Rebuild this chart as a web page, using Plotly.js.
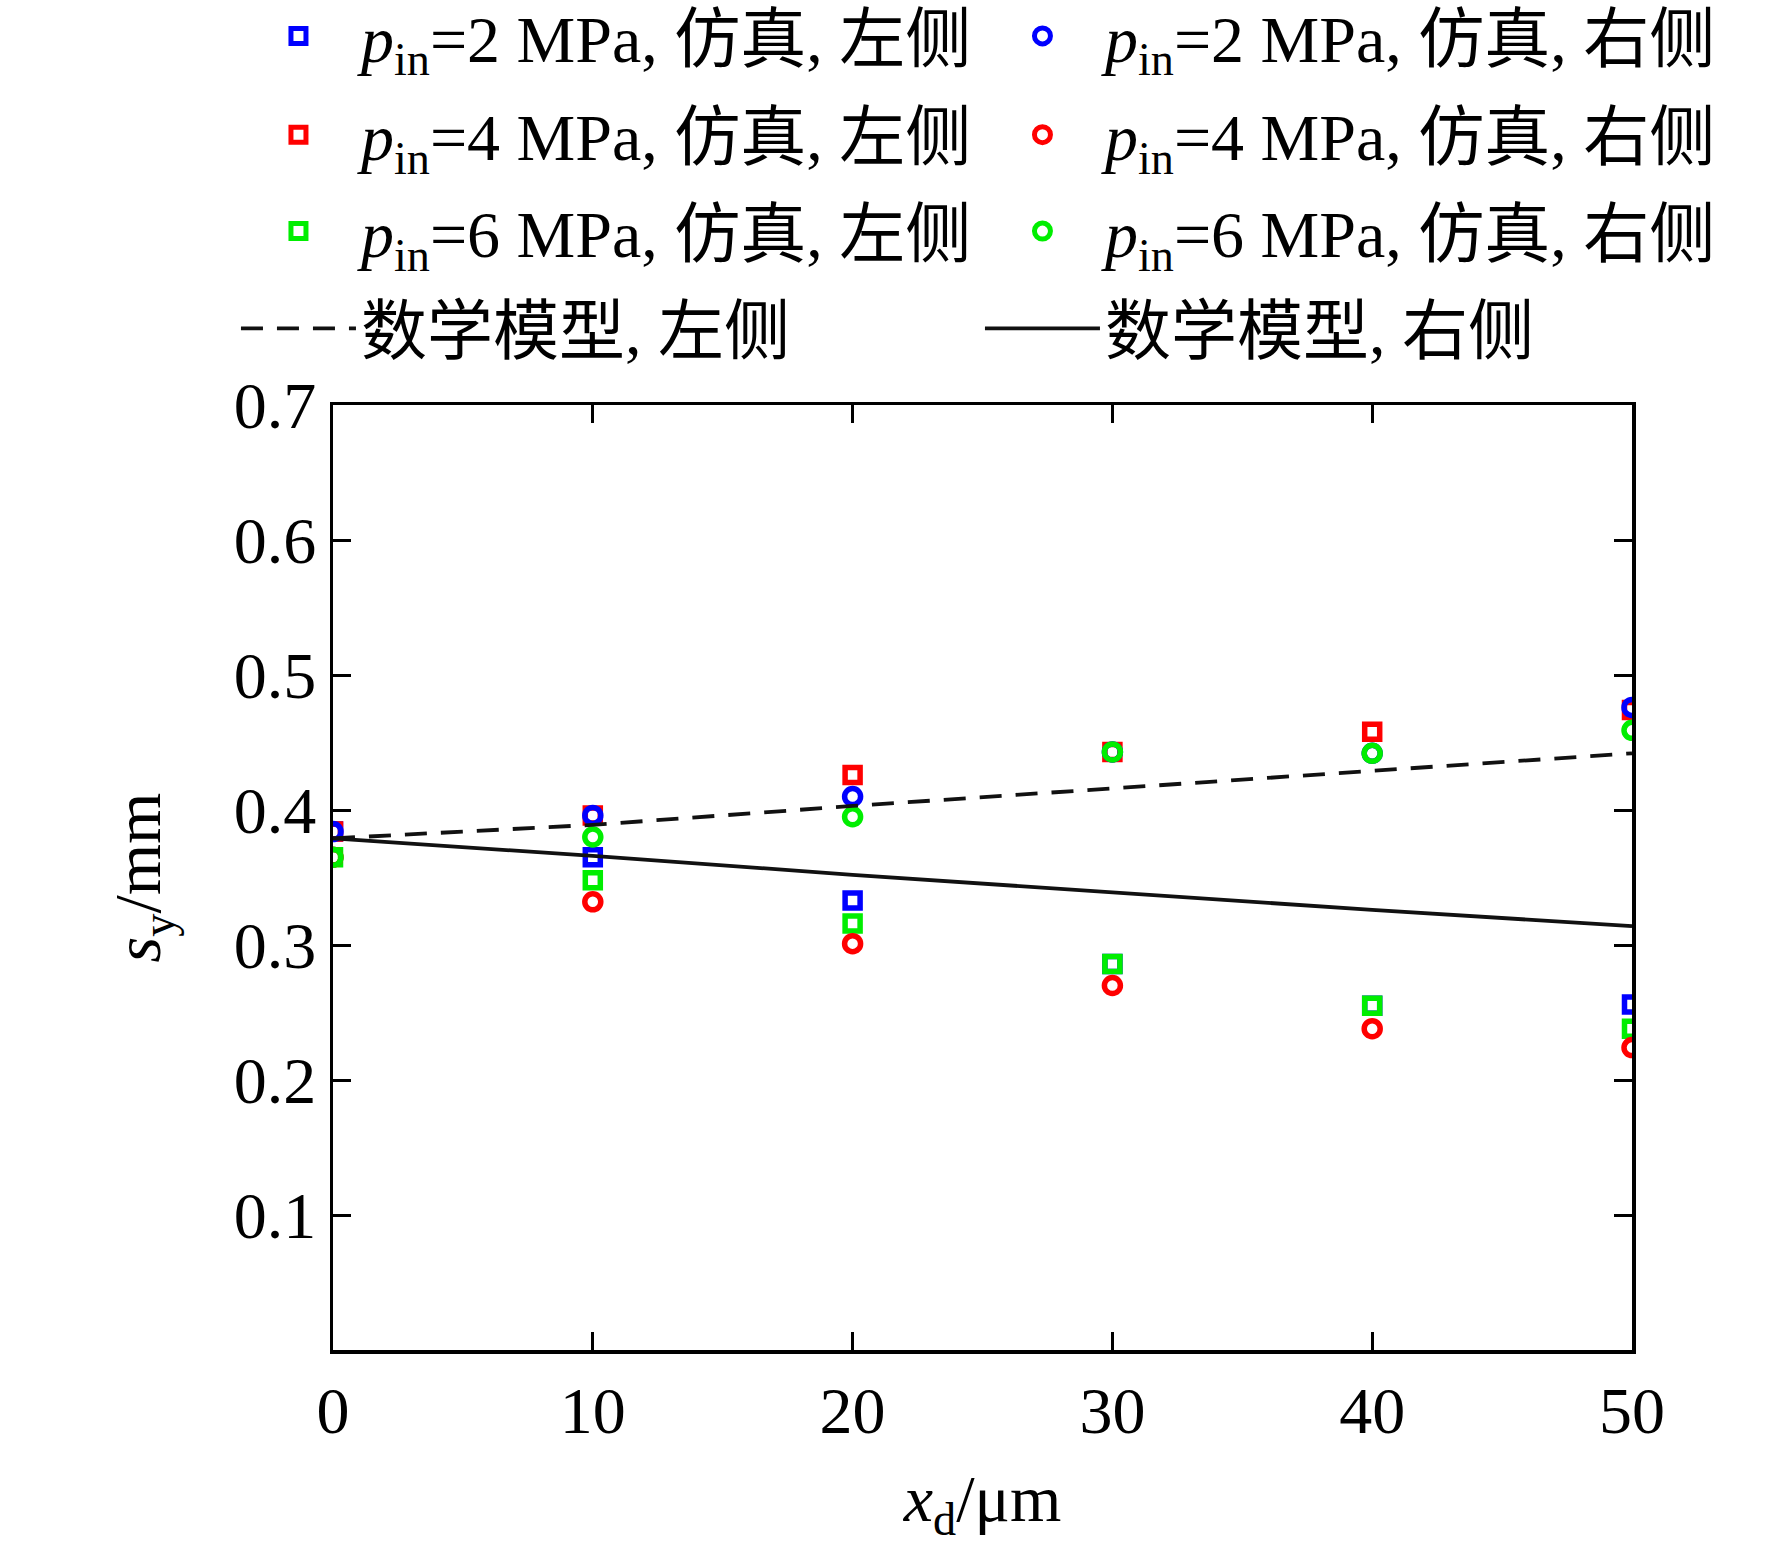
<!DOCTYPE html>
<html>
<head>
<meta charset="utf-8">
<script src="https://cdn.plot.ly/plotly-3.0.1.min.js"></script>
<style>
  html, body { margin: 0; padding: 0; background: #fff; }
  #chart { width: 1772px; height: 1552px; }
</style>
</head>
<body>
<div id="chart"></div>
<script>
// x_d in um
var xd = [0, 10, 20, 30, 40, 50];

// simulation, left side (squares)
var left2 = [0.384, 0.365, 0.333, 0.286, 0.255, 0.256];
var left4 = [0.384, 0.396, 0.426, 0.443, 0.458, 0.474];
var left6 = [0.365, 0.348, 0.316, 0.286, 0.255, 0.238];

// simulation, right side (circles)
var right2 = [0.384, 0.396, 0.410, 0.443, 0.442, 0.476];
var right4 = [0.365, 0.332, 0.301, 0.270, 0.238, 0.224];
var right6 = [0.365, 0.380, 0.395, 0.443, 0.442, 0.459];

// math model
var modelLeft = [0.379, 0.389, 0.403, 0.416, 0.429, 0.442];
var modelRight = [0.379, 0.366, 0.352, 0.339, 0.326, 0.314];

var xTicks = [0, 10, 20, 30, 40, 50];
var yTicks = [0.1, 0.2, 0.3, 0.4, 0.5, 0.6, 0.7];

var FONT = 'Liberation Serif, Times New Roman, Noto Sans CJK SC, serif';

function simTrace(y, name, color, symbol, legendId, rank) {
  var isSquare = symbol == 'square-open';
  return {
    x: xd,
    y: y,
    type: 'scatter',
    mode: 'markers',
    name: name,
    legend: legendId,
    legendrank: rank,
    marker: {
      symbol: symbol,
      color: color,
      size: isSquare ? 15 : 16,
      line: { color: color, width: 5.5 }
    }
  };
}

function modelTrace(y, name, dash, legendId, rank) {
  return {
    x: xd,
    y: y,
    type: 'scatter',
    mode: 'lines',
    name: name,
    legend: legendId,
    legendrank: rank,
    line: { color: '#111', width: 3.8, dash: dash }
  };
}

var traces = [
  simTrace(left2, '<i>p</i><sub>in</sub>=2 MPa, 仿真, 左侧', '#0000ff', 'square-open', 'legend', 1),
  simTrace(left4, '<i>p</i><sub>in</sub>=4 MPa, 仿真, 左侧', '#ff0000', 'square-open', 'legend2', 1),
  simTrace(left6, '<i>p</i><sub>in</sub>=6 MPa, 仿真, 左侧', '#00ee00', 'square-open', 'legend3', 1),
  simTrace(right2, '<i>p</i><sub>in</sub>=2 MPa, 仿真, 右侧', '#0000ff', 'circle-open', 'legend', 2),
  simTrace(right4, '<i>p</i><sub>in</sub>=4 MPa, 仿真, 右侧', '#ff0000', 'circle-open', 'legend2', 2),
  simTrace(right6, '<i>p</i><sub>in</sub>=6 MPa, 仿真, 右侧', '#00ee00', 'circle-open', 'legend3', 2),
  modelTrace(modelLeft, '数学模型, 左侧', '22px,14px', 'legend4', 1),
  modelTrace(modelRight, '数学模型, 右侧', 'solid', 'legend4', 2)
];

// one legend per row, two entries each
function legendRow(yPaper) {
  return {
    orientation: 'h',
    x: -0.0747,
    y: yPaper,
    xanchor: 'left',
    yanchor: 'middle',
    entrywidth: 614,
    entrywidthmode: 'pixels',
    itemwidth: 115,
    traceorder: 'normal',
    font: { family: FONT, size: 66, color: '#000' },
    bgcolor: 'rgba(0,0,0,0)'
  };
}

var axisCommon = {
  showline: true,
  linewidth: 3.5,
  linecolor: '#000',
  mirror: 'ticks',
  ticks: 'inside',
  ticklen: 18,
  tickwidth: 3,
  tickcolor: '#000',
  showgrid: false,
  zeroline: false,
  tickfont: { family: FONT, size: 66, color: '#000' }
};

var layout = {
  width: 1772,
  height: 1552,
  paper_bgcolor: '#fff',
  plot_bgcolor: '#fff',
  margin: { l: 333, r: 140, t: 405, b: 202, pad: 0, autoexpand: false },
  font: { family: FONT, size: 66, color: '#000' },
  showlegend: true,
  legend: legendRow(1.3905),
  legend2: legendRow(1.2860),
  legend3: legendRow(1.1840),
  legend4: legendRow(1.0810),
  xaxis: Object.assign({}, axisCommon, {
    range: [0, 50],
    tickvals: xTicks,
    ticktext: xTicks.map(String),
    title: { text: '<i>x</i><sub>d</sub>/μm', font: { family: FONT, size: 66, color: '#000' }, standoff: 30 }
  }),
  yaxis: Object.assign({}, axisCommon, {
    range: [0, 0.7],
    tickvals: yTicks,
    ticktext: yTicks.map(function (v) { return v.toFixed(1); }),
    title: { text: '<i>s</i><sub>y</sub>/mm', font: { family: FONT, size: 66, color: '#000' }, standoff: 52 }
  })
};

Plotly.newPlot('chart', traces, layout, { displayModeBar: false, staticPlot: true });
</script>
</body>
</html>
